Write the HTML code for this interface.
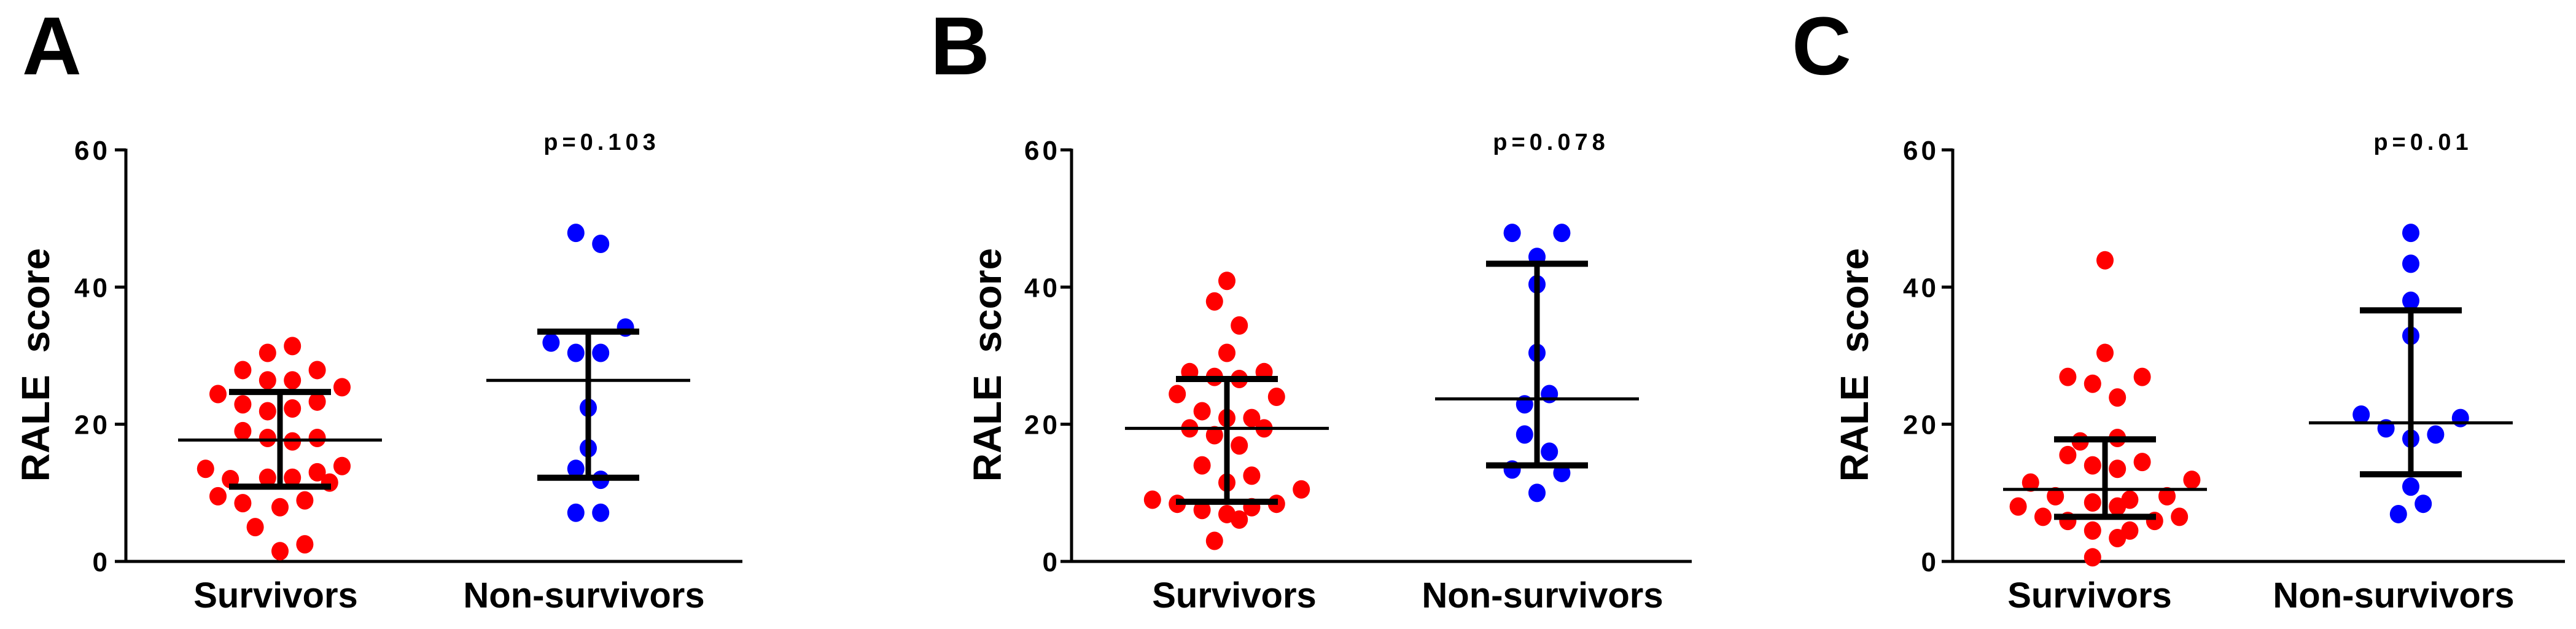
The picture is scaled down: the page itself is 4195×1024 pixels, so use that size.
<!DOCTYPE html>
<html><head><meta charset="utf-8">
<style>
html,body{margin:0;padding:0;background:#fff;}
svg{display:block;}
text{font-family:"Liberation Sans",Arial,sans-serif;font-weight:bold;fill:#000;white-space:pre;}
</style></head>
<body>
<svg id="chart" width="4195" height="1024" viewBox="0 0 4195 1024" xmlns="http://www.w3.org/2000/svg"></svg>
<script>
// ---- data ----
const panelLetters = ["A", "B", "C"];
const categories = ["Survivors", "Non-survivors"];
const tickValues = [0, 20, 40, 60];
const tickLabels = ["0", "20", "40", "60"];
const pValues = ["p=0.103", "p=0.078", "p=0.01"];

const survA = [31.4,30.4,27.9,27.9,26.4,26.4,25.4,24.4,22.9,23.3,21.9,22.3,19.0,18.0,17.5,18.0,13.5,13.9,13.0,12.0,12.2,12.2,11.5,9.5,8.5,7.9,8.9,5.0,2.5,1.5];
const survASlot = [1,-1,-3,3,-1,1,5,-5,-3,3,-1,1,-3,-1,1,3,-6,5,3,-4,-1,1,4,-5,-3,0,2,-2,2,0];
const nonA = [47.9,46.3,34.1,31.9,30.4,30.4,22.4,16.5,13.5,11.9,7.1,7.1];
const nonASlot = [-1,1,3,-3,-1,1,0,0,-1,1,-1,1];

const survB = [40.9,37.9,34.4,30.4,27.6,26.9,26.6,27.6,24.4,24.0,21.9,20.9,20.9,19.4,19.4,18.4,16.9,14.0,12.5,11.5,9.0,8.4,7.5,6.9,7.9,8.4,10.5,6.1,3.0];
const survBSlot = [0,-1,1,0,-3,-1,1,3,-4,4,-2,0,2,-3,3,-1,1,-2,2,0,-6,-4,-2,0,2,4,6,1,-1];
const nonB = [47.9,47.9,44.4,40.4,30.4,24.4,22.9,18.5,16.0,13.4,12.9,10.0];
const nonBSlot = [-2,2,0,0,0,1,-1,-1,1,-2,2,0];

const survC = [43.9,30.4,26.9,26.9,25.9,23.9,17.5,18.0,15.5,14.5,14.0,13.5,11.5,11.9,9.5,8.6,9.0,9.5,8.0,8.0,6.5,5.9,5.9,6.5,4.5,4.5,3.4,0.6];
const survCSlot = [0,0,-3,3,-1,1,-2,1,-3,3,-1,1,-6,7,-4,-1,2,5,-7,1,-5,-3,4,6,-1,2,1,-1];
const nonC = [47.9,43.4,38.0,32.9,21.4,20.9,19.4,17.9,18.5,10.9,8.4,6.9];
const nonCSlot = [0,0,0,0,-4,4,-2,0,2,0,1,-1];

// median, upper, lower (interquartile bars)
const medians = [[17.7,26.4],[19.4,23.7],[10.5,20.2]];
const upperQ = [[24.7,33.5],[26.6,43.4],[17.8,36.6]];
const lowerQ = [[10.9,12.2],[8.7,14.0],[6.5,12.7]];

// ---- layout ----
const NS = "http://www.w3.org/2000/svg";
const svg = document.getElementById("chart");
const layouts = [
  {axisX:205, xEnd:1209, centers:[456,958], labelC:[449,951], letterX:36, titleX:57, tickR:180, pX:980},
  {axisX:1745, xEnd:2755, centers:[1998,2503], labelC:[2010,2512], letterX:1515, titleX:1607, tickR:1727, pX:2526},
  {axisX:3180, xEnd:4177, centers:[3428,3926], labelC:[3403,3898], letterX:2918, titleX:3019, tickR:3158, pX:3946}
];
const survData = [survA, survB, survC];
const survSlots = [survASlot, survBSlot, survCSlot];
const nonData = [nonA, nonB, nonC];
const nonSlots = [nonASlot, nonBSlot, nonCSlot];
const Y0 = 914, Y60 = 244, slotW = 20.2;
function yScale(v){ return Y0 - (v/60)*(Y0-Y60); }

function mk(tag, attrs, parent){
  const el = document.createElementNS(NS, tag);
  for (const k in attrs) el.setAttribute(k, attrs[k]);
  (parent||svg).appendChild(el);
  return el;
}

layouts.forEach((L, p) => {
  const g = mk("g", {});
  
  

  const letter = mk("text", {x:L.letterX, y:121, "font-size":134}, g);
  letter.textContent = panelLetters[p];
  
  

  const yAxis = mk("line", {x1:L.axisX, y1:yScale(60)-2, x2:L.axisX, y2:Y0+2, stroke:"#000", "stroke-width":5}, g);
  
  
  const xAxis = mk("line", {x1:L.axisX-18, y1:Y0, x2:L.xEnd, y2:Y0, stroke:"#000", "stroke-width":5}, g);
  
  

  tickValues.forEach((tv, i) => {
    const ty = yScale(tv);
    const t = mk("line", {x1:L.axisX-18, y1:ty, x2:L.axisX, y2:ty, stroke:"#000", "stroke-width":5}, g);
    
    
    const tl = mk("text", {x:L.tickR, y:ty+16, "font-size":44, "text-anchor":"end", "letter-spacing":5}, g);
    tl.textContent = tickLabels[i];
    
    
  });

  const yt = mk("text", {x:0, y:0, "font-size":64, "text-anchor":"middle", transform:`translate(${L.titleX+23},594) rotate(-90)`}, g);
  yt.textContent = "RALE  score";
  
  

  categories.forEach((c, i) => {
    const cl = mk("text", {x:L.labelC[i], y:989, "font-size":58, "text-anchor":"middle"}, g);
    cl.textContent = c;
    
    
  });

  const pt = mk("text", {x:L.pX, y:244, "font-size":38, "text-anchor":"middle", "letter-spacing":7}, g);
  pt.textContent = pValues[p];
  
  

  [[survData[p], survSlots[p], "#ff0000"], [nonData[p], nonSlots[p], "#0000ff"]].forEach((grp, gi) => {
    grp[0].forEach((v, k) => {
      const d = mk("ellipse", {cx:L.centers[gi] + grp[1][k]*slotW, cy:yScale(v), rx:14, ry:15, fill:grp[2]}, g);
      
      
    });
  });

  [0,1].forEach(gi => {
    const cx = L.centers[gi];
    const m = mk("line", {x1:cx-166, y1:yScale(medians[p][gi]), x2:cx+166, y2:yScale(medians[p][gi]), stroke:"#000", "stroke-width":5}, g);
    
    
    const v = mk("line", {x1:cx, y1:yScale(upperQ[p][gi]), x2:cx, y2:yScale(lowerQ[p][gi]), stroke:"#000", "stroke-width":9}, g);
    
    
    const u = mk("line", {x1:cx-83, y1:yScale(upperQ[p][gi]), x2:cx+83, y2:yScale(upperQ[p][gi]), stroke:"#000", "stroke-width":10}, g);
    
    
    const lo = mk("line", {x1:cx-83, y1:yScale(lowerQ[p][gi]), x2:cx+83, y2:yScale(lowerQ[p][gi]), stroke:"#000", "stroke-width":10}, g);
    
    
  });
});
</script>
</body></html>
